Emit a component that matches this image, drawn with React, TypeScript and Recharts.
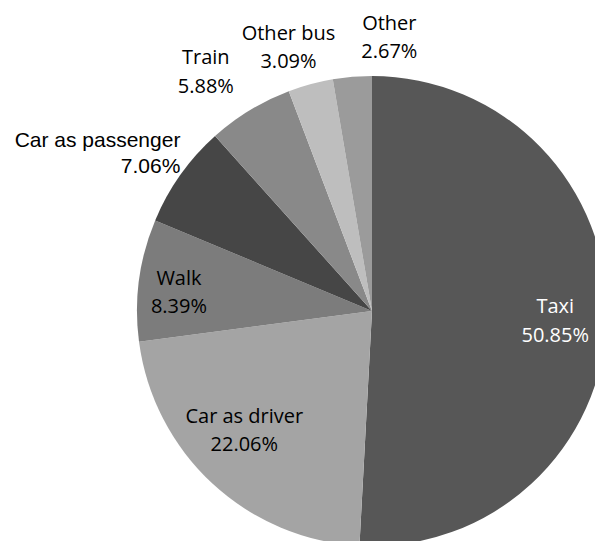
import { PieChart, Pie, Cell } from 'recharts';

const modes = ['Taxi', 'Car as driver', 'Walk', 'Car as passenger', 'Train', 'Other bus', 'Other'];
const shares = [50.85, 22.06, 8.39, 7.06, 5.88, 3.09, 2.67];
const percentLabels = ['50.85%', '22.06%', '8.39%', '7.06%', '5.88%', '3.09%', '2.67%'];

const data = modes.map((name, i) => ({ name, value: shares[i], pct: percentLabels[i] }));

const sliceColors = ['#575757', '#a4a4a4', '#7c7c7c', '#464646', '#898989', '#bebebe', '#9b9b9b'];

// where each label sits: fraction of radius along the slice middle, then a nudge
const labelPlace = [
  { k: 0.78, dx: 0, dy: -3, anchor: 'middle', fill: '#ffffff', font: 'Open Sans', size: 20, gap: 29 },
  { k: 0.75, dx: -8, dy: -17, anchor: 'middle', fill: '#000', font: 'Open Sans', size: 20, gap: 28 },
  { k: 0.82, dx: -2, dy: -1, anchor: 'middle', fill: '#000', font: 'Open Sans', size: 20, gap: 28 },
  { k: 1, dx: 0, dy: -28, anchor: 'end', fill: '#000', font: 'Liberation Sans, Arial', size: 21, gap: 26 },
  { k: 1, dx: -44, dy: -46, anchor: 'middle', fill: '#000', font: 'Open Sans', size: 20, gap: 29 },
  { k: 1, dx: -22, dy: -44, anchor: 'middle', fill: '#000', font: 'Open Sans', size: 20, gap: 28 },
  { k: 1, dx: 37, dy: -47, anchor: 'middle', fill: '#000', font: 'Open Sans', size: 20, gap: 28 },
];

const RAD = Math.PI / 180;

function renderLabel(props: any) {
  const { cx, cy, midAngle, outerRadius, index } = props;
  const p = labelPlace[index];
  const r = outerRadius * p.k;
  const x = cx + Math.cos(-midAngle * RAD) * r + p.dx;
  const y = cy + Math.sin(-midAngle * RAD) * r + p.dy;
  return (
    <text
      x={x}
      y={y}
      textAnchor={p.anchor}
      fill={p.fill}
      fontFamily={p.font}
      fontSize={p.size}
    >
      <tspan x={x} y={y}>{modes[index]}</tspan>
      <tspan x={x} y={y + p.gap}>{percentLabels[index]}</tspan>
    </text>
  );
}

export default function App() {
  return (
    <div style={{ margin: -8, width: 603, height: 549, overflow: 'hidden', background: '#fff' }}>
      <PieChart width={603} height={549} margin={{ top: 0, right: 0, bottom: 0, left: 0 }}>
        <Pie
          data={data}
          dataKey="value"
          nameKey="name"
          cx={372}
          cy={311}
          outerRadius={235}
          startAngle={90}
          endAngle={-270}
          stroke="none"
          label={renderLabel}
          labelLine={false}
          isAnimationActive={false}
        >
          {data.map((d, i) => (
            <Cell key={d.name} fill={sliceColors[i]} />
          ))}
        </Pie>
      </PieChart>
    </div>
  );
}
